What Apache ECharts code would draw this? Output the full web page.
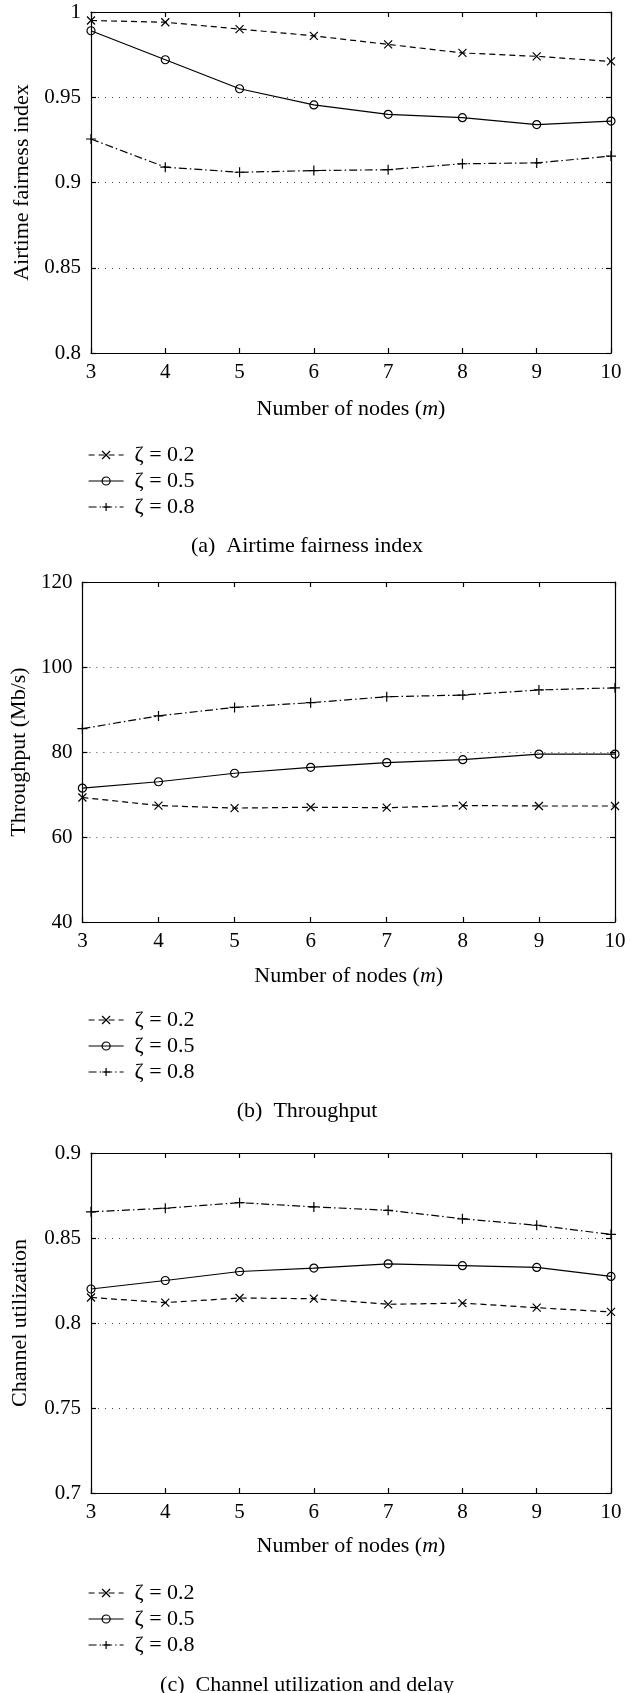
<!DOCTYPE html>
<html>
<head>
<meta charset="utf-8">
<script src="https://cdn.jsdelivr.net/npm/echarts@6/dist/echarts.min.js"></script>
<style>
html, body { margin: 0; padding: 0; background: #fff; }
#chart { width: 638px; height: 1693px; }
</style>
</head>
<body>
<div id="chart"></div>
<script>
const nodes = [3, 4, 5, 6, 7, 8, 9, 10];
const seriesNames = ['ζ = 0.2', 'ζ = 0.5', 'ζ = 0.8'];

// (a) airtime fairness index
const fairness02 = [0.995, 0.994, 0.990, 0.986, 0.981, 0.976, 0.974, 0.971];
const fairness05 = [0.989, 0.972, 0.955, 0.9455, 0.940, 0.938, 0.934, 0.936];
const fairness08 = [0.9255, 0.909, 0.906, 0.907, 0.9075, 0.911, 0.9115, 0.9155];

// (b) throughput, Mb/s
const throughput02 = [69.3, 67.4, 66.8, 67.0, 66.9, 67.4, 67.3, 67.3];
const throughput05 = [71.5, 73.0, 75.0, 76.4, 77.5, 78.2, 79.5, 79.5];
const throughput08 = [85.5, 88.5, 90.5, 91.6, 93.0, 93.4, 94.6, 95.1];

// (c) channel utilization
const utilization02 = [0.815, 0.812, 0.8147, 0.8143, 0.811, 0.8117, 0.809, 0.8065];
const utilization05 = [0.820, 0.825, 0.8303, 0.8323, 0.8348, 0.8337, 0.8327, 0.8274];
const utilization08 = [0.8654, 0.8675, 0.8708, 0.8683, 0.8663, 0.8613, 0.8575, 0.8521];

const font = 'Liberation Serif';
const black = '#000';

// x, o and + markers, drawn as strokes
const markers = ['path://M0,0L10,10M10,0L0,10', 'circle', 'path://M5,0L5,10M0,5L10,5'];
const markerSizes = [8, 8, 10];
const dashes = [[6, 4], 'solid', [8, 3, 1.5, 3]];

const panels = [
  {
    grid: { left: 91, top: 12, width: 520, height: 341 },
    yName: 'Airtime fairness index', yMin: 0.8, yMax: 1, yStep: 0.05, yNameGap: 58, xNameGap: 45,
    legendTop: 439, caption: '(a)  Airtime fairness index', captionTop: 530,
    values: [fairness02, fairness05, fairness08]
  },
  {
    grid: { left: 82, top: 582, width: 533, height: 340 },
    yName: 'Throughput (Mb/s)', yMin: 40, yMax: 120, yStep: 20, yNameGap: 52, xNameGap: 43,
    legendTop: 1004, caption: '(b)  Throughput', captionTop: 1095,
    values: [throughput02, throughput05, throughput08]
  },
  {
    grid: { left: 91, top: 1153, width: 520, height: 340 },
    yName: 'Channel utilization', yMin: 0.7, yMax: 0.9, yStep: 0.05, yNameGap: 60, xNameGap: 42,
    legendTop: 1577, caption: '(c)  Channel utilization and delay', captionTop: 1669,
    values: [utilization02, utilization05, utilization08]
  }
];

const axisLine = { show: true, lineStyle: { color: black, width: 1.2 } };
const axisTick = { show: true, inside: true, length: 5, lineStyle: { color: black, width: 1.2 } };

const grids = [];
const xAxes = [];
const yAxes = [];
const series = [];
const legends = [];
const titles = [];

panels.forEach((p, i) => {
  grids.push(Object.assign({ containLabel: false }, p.grid));

  // bottom x axis with labels, top one only for the frame and ticks
  xAxes.push({
    type: 'value', gridIndex: i, position: 'bottom', min: 3, max: 10, interval: 1,
    axisLine: axisLine, axisTick: axisTick, splitLine: { show: false },
    axisLabel: { color: black, fontFamily: font, fontSize: 21, margin: 9 },
    name: 'Number of nodes ({i|m})', nameLocation: 'middle', nameGap: p.xNameGap,
    nameTextStyle: {
      color: black, fontFamily: font, fontSize: 22,
      rich: { i: { fontStyle: 'italic', fontFamily: font, fontSize: 22, color: black } }
    }
  });
  xAxes.push({
    type: 'value', gridIndex: i, position: 'top', min: 3, max: 10, interval: 1,
    axisLine: axisLine, axisTick: axisTick, axisLabel: { show: false }, splitLine: { show: false }
  });

  yAxes.push({
    type: 'value', gridIndex: i, position: 'left', min: p.yMin, max: p.yMax, interval: p.yStep,
    axisLine: axisLine, axisTick: axisTick,
    axisLabel: { color: black, fontFamily: font, fontSize: 21, margin: 10 },
    splitLine: { show: true, lineStyle: { color: '#444', width: 1, type: [1, 6] } },
    name: p.yName, nameLocation: 'middle', nameGap: p.yNameGap,
    nameTextStyle: { color: black, fontFamily: font, fontSize: 22 }
  });
  yAxes.push({
    type: 'value', gridIndex: i, position: 'right', min: p.yMin, max: p.yMax, interval: p.yStep,
    axisLine: axisLine, axisTick: axisTick, axisLabel: { show: false }, splitLine: { show: false }
  });

  p.values.forEach((vals, k) => {
    series.push({
      type: 'line',
      name: seriesNames[k],
      xAxisIndex: i * 2,
      yAxisIndex: i * 2,
      data: nodes.map((n, j) => [n, vals[j]]),
      symbol: markers[k],
      symbolSize: markerSizes[k],
      showSymbol: true,
      lineStyle: { color: black, width: 1.2, type: dashes[k] },
      itemStyle: { color: 'rgba(0,0,0,0)', borderColor: black, borderWidth: 1.2 },
      emphasis: { disabled: true },
      z: 3 + k
    });
  });

  legends.push({
    orient: 'vertical', left: 83, top: p.legendTop,
    itemWidth: 35, itemHeight: 10, itemGap: 4,
    data: seriesNames,
    lineStyle: { width: 1.2 },
    itemStyle: { borderWidth: 1.2 },
    textStyle: { color: black, fontFamily: font, fontSize: 22, padding: [0, 0, 0, 6] }
  });

  titles.push({
    text: p.caption, left: 302, top: p.captionTop, textAlign: 'center',
    textStyle: { color: black, fontFamily: font, fontSize: 22, fontWeight: 'normal' }
  });
});

const chart = echarts.init(document.getElementById('chart'), null, { renderer: 'canvas' });
chart.setOption({
  animation: false,
  backgroundColor: '#fff',
  title: titles,
  legend: legends,
  tooltip: { show: false },
  grid: grids,
  xAxis: xAxes,
  yAxis: yAxes,
  series: series
});
</script>
</body>
</html>
